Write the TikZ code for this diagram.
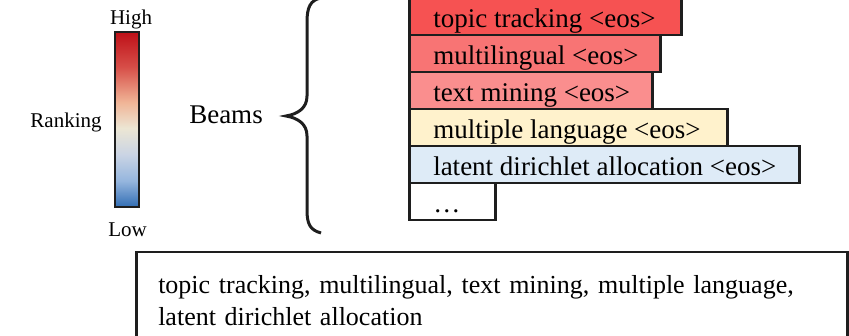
\documentclass[tikz,border=0pt]{standalone}
\usepackage{fontspec}
\setmainfont{Liberation Serif}

% colour ramp for the ranking bar (bottom = low, top = high)
\definecolor{rkA}{RGB}{50,110,180}
\definecolor{rkB}{RGB}{150,182,222}
\definecolor{rkC}{RGB}{202,212,228}
\definecolor{rkD}{RGB}{236,230,212}
\definecolor{rkE}{RGB}{240,180,150}
\definecolor{rkF}{RGB}{215,78,72}
\definecolor{rkG}{RGB}{190,16,24}
\pgfdeclareverticalshading{rankramp}{100bp}{%
  color(0bp)=(rkA); color(25bp)=(rkA); color(32.5bp)=(rkB);
  color(40bp)=(rkC); color(47.5bp)=(rkD); color(55bp)=(rkE);
  color(65bp)=(rkF); color(75bp)=(rkG); color(100bp)=(rkG)}

% beam fill colours
\definecolor{beamA}{RGB}{246,82,82}
\definecolor{beamB}{RGB}{248,116,116}
\definecolor{beamC}{RGB}{250,142,142}
\definecolor{beamD}{RGB}{255,242,204}
\definecolor{beamE}{RGB}{222,235,247}
\definecolor{edge}{RGB}{30,30,30}

\begin{document}
\begin{tikzpicture}[x=1pt,y=-1pt,
  smalllabel/.style={font=\fontsize{21}{25}\selectfont, inner sep=0pt, anchor=base},
  biglabel/.style={font=\fontsize{27}{32}\selectfont, inner sep=0pt, anchor=base},
  beambox/.style={draw=edge, line width=2.5pt, anchor=north west,
    font=\fontsize{27}{32}\selectfont, inner xsep=24pt, inner ysep=0pt,
    minimum height=37pt, text height=23pt, text depth=2pt},
  listbox/.style={draw=edge, line width=2.5pt, anchor=north west,
    font=\fontsize{26}{32}\selectfont, align=left, inner xsep=22pt,
    text width=667pt, minimum width=711pt, minimum height=96pt}]

\useasboundingbox (0,0) rectangle (849,336);

% ranking colour bar with its labels
\node[draw=edge, line width=2pt, shading=rankramp, minimum width=24pt,
  minimum height=175pt, inner sep=0pt] (bar) at (127,119.5) {};
\node[smalllabel] (high) at (131,25) {High};
\node[smalllabel] (low) at (127.5,237) {Low};
\node[smalllabel] (rank) at (66,128) {Ranking};

% beams label and curly brace
\node[biglabel] (beams) at (226,124) {Beams};
\draw[line width=3pt, edge]
  (321,-2) .. controls (310,0) and (307,8) .. (307,22) -- (307,96)
  .. controls (307,108) and (298,114) .. (286,116)
  .. controls (298,118) and (307,124) .. (307,136) -- (307,210)
  .. controls (307,224) and (310,230) .. (321,233);

% beam candidates
\node[beambox, fill=beamA] (b1) at (408,-3) {\makebox[224pt][l]{topic tracking <eos>}};
\node[beambox, fill=beamB] (b2) at (408,34) {\makebox[203pt][l]{multilingual <eos>}};
\node[beambox, fill=beamC] (b3) at (408,71) {\makebox[195pt][l]{text mining <eos>}};
\node[beambox, fill=beamD] (b4) at (408,108) {\makebox[270pt][l]{multiple language <eos>}};
\node[beambox, fill=beamE] (b5) at (408,145) {\makebox[342pt][l]{latent dirichlet allocation <eos>}};
\node[beambox, fill=white] (b6) at (408,182) {\makebox[38pt][l]{\ldots}};

% final keyphrase list
\node[listbox] (final) at (135,251)
  {topic tracking, multilingual, text mining, multiple language,\\
   latent dirichlet allocation};
\end{tikzpicture}
\end{document}
